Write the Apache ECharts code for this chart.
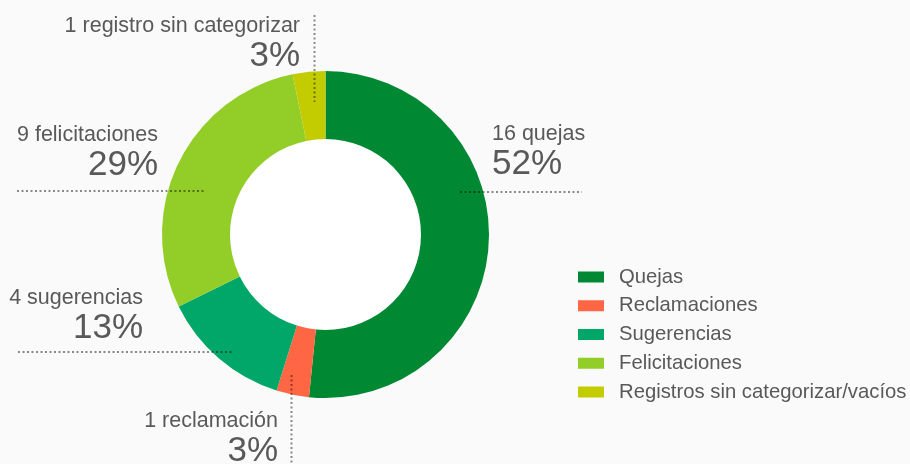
<!DOCTYPE html>
<html>
<head>
<meta charset="utf-8">
<script src="https://cdn.jsdelivr.net/npm/echarts@6/dist/echarts.min.js"></script>
<style>
  html, body { margin: 0; padding: 0; background: #fafafa; }
  #main { width: 910px; height: 464px; }
</style>
</head>
<body>
<div id="main"></div>
<script>
var categories = ['Quejas', 'Reclamaciones', 'Sugerencias', 'Felicitaciones', 'Registros sin categorizar/vacíos'];
var counts = [16, 1, 4, 9, 1];
var labelTexts = ['16 quejas', '1 reclamación', '4 sugerencias', '9 felicitaciones', '1 registro sin categorizar'];
var colors = ['#008833', '#ff6644', '#00a768', '#93cd27', '#c3cc00'];

var cx = 325.5, cy = 234.5;
var rIn = 95.5, rOut = 163.5;

// where each label and its dotted leader go
var spots = [
    { x: 492, y: 122, align: 'left',  line: [[460, 192], [521, 192], [582, 192]] },
    { x: 278, y: 409, align: 'right', line: [[291.5, 375], [291.5, 420], [291.5, 470]] },
    { x: 143, y: 286, align: 'right', line: [[18, 352], [125, 352], [232, 352]] },
    { x: 158, y: 123, align: 'right', line: [[17, 191], [110, 191], [204, 191]] },
    { x: 300, y: 14,  align: 'right', line: [[314.5, 15], [314.5, 58], [314.5, 102]] }
];

var myChart = echarts.init(document.getElementById('main'));

var pieData = [];
for (var i = 0; i < categories.length; i++) {
    pieData.push({ name: categories[i], value: counts[i] });
}

var ring = {
    type: 'pie',
    radius: [rIn, rOut],
    center: [cx, cy],
    startAngle: 90,
    clockwise: true,
    avoidLabelOverlap: false,
    emphasis: { scale: false },
    label: { show: false },
    labelLine: { show: false },
    data: pieData
};

// same ring again, invisible, only to put labels and dotted leaders on top
var labelRing = {
    type: 'pie',
    z: 5,
    silent: true,
    radius: [rIn, rOut],
    center: [cx, cy],
    startAngle: 90,
    clockwise: true,
    avoidLabelOverlap: false,
    emphasis: { disabled: true },
    itemStyle: { color: 'rgba(0,0,0,0)' },
    label: {
        show: true,
        position: 'outside',
        color: '#595959',
        formatter: function (p) {
            return '{a|' + labelTexts[p.dataIndex] + '}\n{b|' + Math.round(p.percent) + '%}';
        },
        rich: {
            a: { fontSize: 21.5, lineHeight: 24, color: '#595959' },
            b: { fontSize: 35, lineHeight: 36, color: '#595959' }
        }
    },
    labelLine: {
        show: true,
        lineStyle: { color: 'rgba(0,0,0,0.45)', width: 2, type: [2, 2.5] }
    },
    labelLayout: function (params) {
        var s = spots[params.dataIndex];
        return {
            x: s.x,
            y: s.y,
            align: s.align,
            verticalAlign: 'top',
            labelLinePoints: s.line
        };
    },
    data: pieData
};

option = {
    backgroundColor: '#fafafa',
    animation: false,
    color: colors,
    textStyle: { fontFamily: '"Liberation Sans", Arial, sans-serif' },
    legend: {
        orient: 'vertical',
        left: 578,
        top: 267,
        padding: 0,
        icon: 'rect',
        itemWidth: 26,
        itemHeight: 11,
        itemGap: 8.75,
        data: categories,
        selectedMode: false,
        textStyle: {
            color: '#595959',
            fontSize: 20.3,
            lineHeight: 20,
            padding: [0, 0, 0, 10]
        }
    },
    series: [
        {
            type: 'pie',
            radius: [0, rIn],
            center: [cx, cy],
            silent: true,
            label: { show: false },
            labelLine: { show: false },
            itemStyle: { color: '#ffffff' },
            data: [{ value: 1, name: '' }]
        },
        ring,
        labelRing
    ]
};

myChart.setOption(option);
</script>
</body>
</html>
